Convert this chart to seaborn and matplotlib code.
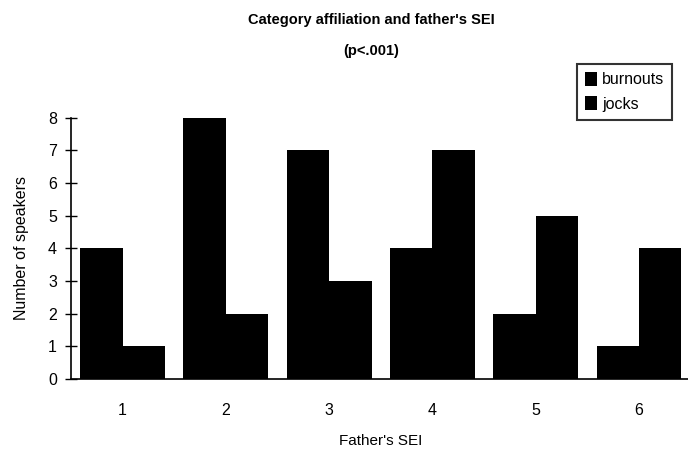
import numpy as np
import pandas as pd
import matplotlib
matplotlib.use('Agg')
import matplotlib.pyplot as plt
import seaborn as sns

# Data
sei_levels = ['1', '2', '3', '4', '5', '6']
burnouts = [4, 8, 7, 4, 2, 1]
jocks = [1, 2, 3, 7, 5, 4]

df = pd.DataFrame({
    'sei': sei_levels * 2,
    'count': burnouts + jocks,
    'group': ['burnouts'] * len(burnouts) + ['jocks'] * len(jocks),
})

sns.set_theme(style='white')
plt.rcParams['font.family'] = ['Liberation Sans', 'DejaVu Sans']
plt.rcParams['text.color'] = 'black'
plt.rcParams['axes.labelcolor'] = 'black'

fig = plt.figure(figsize=(6.88, 4.55), dpi=100)
ax = fig.add_axes([0.103, 0.167, 0.901, 0.574])

sns.barplot(data=df, x='sei', y='count', hue='group',
            palette=['black', 'black'], width=0.82, saturation=1,
            edgecolor='black', linewidth=0, ax=ax)

ax.set_xlim(-0.5, 5.5)
ax.set_ylim(0, 8)
ax.set_yticks(range(0, 9))

# tick marks sit on category boundaries, labels in the middle
ax.set_xticks(np.arange(0.5, 5.5, 1), minor=True)
ax.tick_params(axis='x', which='major', length=0, pad=17, labelsize=11.5, colors='black')
ax.tick_params(axis='x', which='minor', direction='inout', length=8, width=1, color='black')
ax.tick_params(axis='y', direction='inout', length=8, width=1, labelsize=11.5,
               colors='black', left=True, pad=6)

for s in ['top', 'right']:
    ax.spines[s].set_visible(False)
for s in ['left', 'bottom']:
    ax.spines[s].set_color('black')
    ax.spines[s].set_linewidth(1.2)

ax.set_xlabel("Father's SEI", fontsize=11, labelpad=12)
ax.set_ylabel('Number of speakers', fontsize=11.5, labelpad=14)

fig.text(0.54, 0.955, "Category affiliation and father's SEI", ha='center', va='center',
         fontsize=10.5, fontweight='bold')
fig.text(0.54, 0.888, "(p<.001)", ha='center', va='center',
         fontsize=10.5, fontweight='bold')

leg = ax.legend(loc='upper left', bbox_to_anchor=(0.816, 1.207), frameon=True,
                fancybox=False, fontsize=11.5, handlelength=0.8, handleheight=1.0,
                handletextpad=0.3, borderpad=0.5, labelspacing=0.55, borderaxespad=0)
leg.get_frame().set_edgecolor('black')
leg.get_frame().set_linewidth(1.5)
leg.set_clip_on(False)

fig.savefig('out.png', dpi=100)
